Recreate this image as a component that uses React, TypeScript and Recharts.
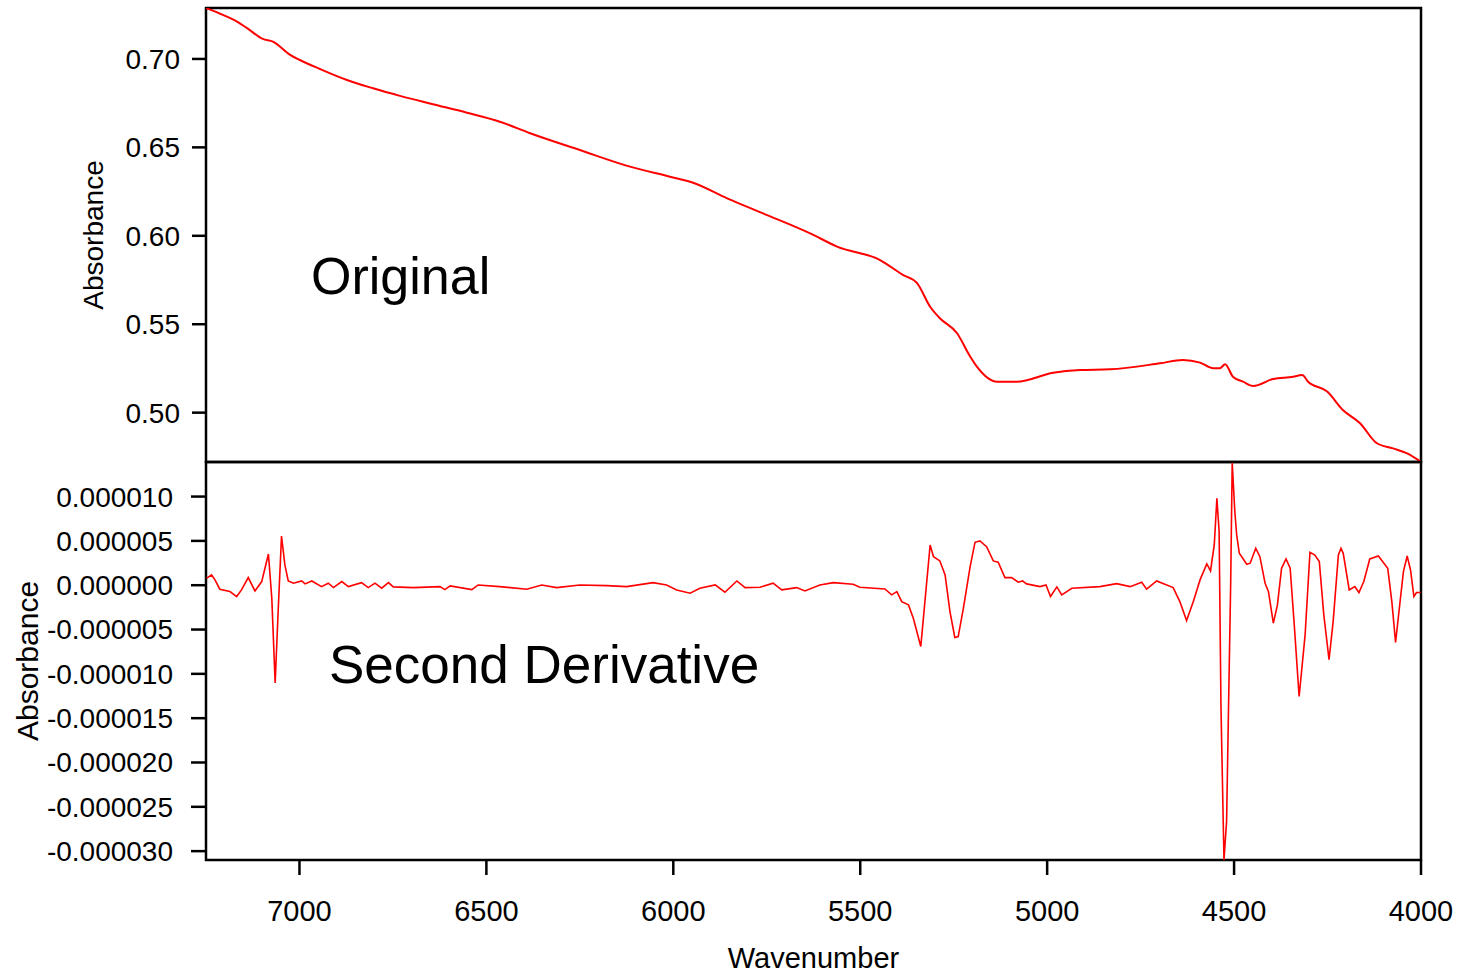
import { LineChart, Line, XAxis, YAxis, ReferenceArea } from "recharts";

const FONT = "'Liberation Sans', Arial, Helvetica, sans-serif";
const RED = "#ff0000";

// shared x axis (wavenumber, drawn high -> low)
const xTicks = [7000, 6500, 6000, 5500, 5000, 4500, 4000];
const X_DOMAIN: [number, number] = [4000, 7250];

// top panel: original spectrum
const absTicks = [0.5, 0.55, 0.6, 0.65, 0.7];
const ABS_DOMAIN: [number, number] = [0.4721, 0.7288];
const origWavenumber = [
  7250, 7205, 7167, 7140, 7098, 7071, 7025, 6999, 6945, 6873, 6803, 6731, 6643, 6552, 6464,
  6383, 6250, 6116, 6009, 5947, 5856, 5760, 5634, 5562, 5447, 5386, 5348, 5313, 5287, 5241,
  5206, 5188, 5134, 5081, 4984, 4912, 4832, 4698, 4637, 4591, 4556, 4538, 4524, 4503, 4476,
  4449, 4396, 4342, 4318, 4302, 4251, 4209, 4163, 4118, 4075, 4037, 4000,
];
const origAbsorbance = [
  0.7288, 0.7249, 0.7211, 0.7174, 0.7113, 0.7098, 0.7023, 0.6994, 0.6943, 0.6881, 0.6834,
  0.6791, 0.6744, 0.6696, 0.6645, 0.658, 0.6485, 0.6391, 0.6334, 0.63, 0.6212, 0.6127, 0.6014,
  0.5939, 0.5863, 0.5779, 0.5732, 0.5599, 0.5534, 0.5449, 0.5317, 0.526, 0.5175, 0.5175,
  0.5226, 0.5241, 0.5245, 0.5279, 0.5298, 0.5283, 0.5251, 0.5251, 0.5274, 0.5203, 0.5175,
  0.5151, 0.519, 0.5203, 0.5213, 0.5175, 0.5119, 0.5015, 0.494, 0.4827, 0.4798, 0.477, 0.4722,
];

// bottom panel: second derivative, values in units of 1e-6
const derivTicks = [-30, -25, -20, -15, -10, -5, 0, 5, 10];
const DERIV_DOMAIN: [number, number] = [-31.0, 13.9];
const derivWavenumber = [
  7248, 7235, 7226, 7213, 7186, 7168, 7155, 7137, 7119, 7101, 7083, 7074, 7065, 7057, 7048,
  7039, 7030, 7016, 6994, 6985, 6967, 6941, 6923, 6909, 6887, 6869, 6834, 6816, 6798, 6780,
  6762, 6749, 6695, 6624, 6611, 6597, 6539, 6522, 6464, 6392, 6352, 6312, 6250, 6178, 6125,
  6054, 6018, 5991, 5955, 5929, 5888, 5862, 5830, 5808, 5768, 5733, 5710, 5670, 5648, 5608,
  5572, 5519, 5501, 5434, 5416, 5402, 5389, 5371, 5358, 5338, 5327, 5313, 5304, 5287, 5273,
  5260, 5247, 5238, 5224, 5206, 5193, 5180, 5162, 5144, 5131, 5113, 5095, 5077, 5066, 5055,
  5019, 5003, 4991, 4974, 4961, 4934, 4859, 4814, 4778, 4747, 4734, 4707, 4663, 4645, 4627,
  4609, 4591, 4573, 4563, 4553, 4546, 4540, 4535, 4527, 4520, 4515, 4509, 4505, 4498, 4493,
  4486, 4466, 4457, 4442, 4431, 4417, 4408, 4395, 4384, 4373, 4361, 4350, 4339, 4326, 4310,
  4297, 4284, 4272, 4260, 4246, 4235, 4221, 4214, 4208, 4192, 4177, 4166, 4153, 4137, 4114,
  4089, 4078, 4068, 4056, 4047, 4037, 4028, 4019, 4012, 4001,
];
const derivValue = [
  0.79, 1.16, 0.6, -0.45, -0.72, -1.28, -0.53, 0.86, -0.64, 0.41, 3.52, -1.46, -11.04, -2.97,
  5.55, 2.29, 0.48, 0.23, 0.48, 0.15, 0.48, -0.16, 0.23, -0.27, 0.41, -0.16, 0.29, -0.27, 0.23,
  -0.34, 0.29, -0.19, -0.27, -0.16, -0.5, -0.08, -0.5, 0.03, -0.16, -0.45, 0.03, -0.27, 0.03,
  -0.05, -0.16, 0.29, 0.03, -0.53, -0.9, -0.34, 0.03, -0.79, 0.48, -0.27, -0.23, 0.23, -0.53,
  -0.27, -0.64, 0.03, 0.29, 0.11, -0.23, -0.42, -1.09, -0.72, -1.85, -2.22, -3.72, -6.91, -1.85,
  4.54, 3.22, 2.74, 1.16, -2.97, -5.9, -5.79, -2.59, 2.1, 4.84, 4.99, 4.35, 2.74, 2.59, 0.86,
  0.86, 0.34, 0.48, 0.15, -0.16, 0.03, -1.28, -0.19, -1.09, -0.34, -0.16, 0.18, -0.16, 0.34,
  -0.45, 0.48, -0.27, -1.85, -3.99, -1.85, 0.6, 2.4, 1.61, 4.54, 9.8, 6.04, -13.85, -31.0,
  -26.62, -14.23, 0.41, 13.8, 8.29, 5.66, 3.6, 2.36, 2.48, 4.17, 3.22, 0.23, -0.72, -4.28,
  -2.22, 1.91, 2.96, 1.91, -4.47, -12.55, -5.6, 3.72, 3.41, 2.66, -3.34, -8.41, -4.1, 3.41,
  4.17, 3.6, -0.53, -0.16, -0.83, 0.41, 2.96, 3.3, 1.91, -1.85, -6.46, -1.85, 1.53, 3.3, 1.72,
  -1.28, -0.83, -0.83,
];

const origData = origWavenumber.map((wn, i) => ({ wn, abs: origAbsorbance[i] }));
const derivData = derivWavenumber.map((wn, i) => ({ wn, d2: derivValue[i] }));

const tickStyle = { fill: "#000", fontSize: 28, fontFamily: FONT };
const frame = { fill: "none", stroke: "#000", strokeWidth: 2.5, ifOverflow: "visible" as const };

export default function App() {
  return (
    <div style={{ position: "absolute", left: 0, top: 0, width: 1466, height: 973, background: "#fff", fontFamily: FONT }}>
      <div style={{ position: "absolute", left: 0, top: 0 }}>
        <LineChart width={1466} height={470} data={origData} margin={{ top: 8, right: 45, bottom: 8, left: 0 }}>
          <XAxis type="number" dataKey="wn" domain={X_DOMAIN} ticks={xTicks} reversed hide allowDataOverflow />
          <YAxis
            type="number"
            domain={ABS_DOMAIN}
            ticks={absTicks}
            allowDataOverflow
            width={206}
            axisLine={false}
            tickLine={{ stroke: "#000", strokeWidth: 2.5 }}
            tickSize={14}
            tickMargin={12}
            tick={tickStyle}
            tickFormatter={(v: number) => v.toFixed(2)}
            label={{
              value: "Absorbance",
              angle: -90,
              position: "insideLeft",
              offset: 93,
              fontSize: 28,
              fill: "#000",
              fontFamily: FONT,
              style: { textAnchor: "middle" },
            }}
          />
          <ReferenceArea x1={7250} x2={4000} y1={ABS_DOMAIN[0]} y2={ABS_DOMAIN[1]} {...frame} />
          <Line type="monotone" dataKey="abs" stroke={RED} strokeWidth={2} dot={false} activeDot={false} isAnimationActive={false} />
        </LineChart>
      </div>

      <div style={{ position: "absolute", left: 0, top: 454 }}>
        <LineChart width={1466} height={519} data={derivData} margin={{ top: 8, right: 45, bottom: 0, left: 0 }}>
          <XAxis
            type="number"
            dataKey="wn"
            domain={X_DOMAIN}
            ticks={xTicks}
            reversed
            allowDataOverflow
            height={113}
            axisLine={false}
            tickLine={{ stroke: "#000", strokeWidth: 2.5 }}
            tickSize={15}
            tickMargin={25}
            tick={{ fill: "#000", fontSize: 29, fontFamily: FONT }}
            label={{ value: "Wavenumber", position: "insideBottom", offset: 5, fontSize: 29, fill: "#000", fontFamily: FONT }}
          />
          <YAxis
            type="number"
            domain={DERIV_DOMAIN}
            ticks={derivTicks}
            allowDataOverflow
            width={206}
            axisLine={false}
            tickLine={{ stroke: "#000", strokeWidth: 2.5 }}
            tickSize={15}
            tickMargin={18}
            tick={tickStyle}
            tickFormatter={(v: number) => (v / 1e6).toFixed(6)}
            label={{
              value: "Absorbance",
              angle: -90,
              position: "insideLeft",
              offset: 27,
              fontSize: 30,
              fill: "#000",
              fontFamily: FONT,
              style: { textAnchor: "middle" },
            }}
          />
          <ReferenceArea x1={7250} x2={4000} y1={DERIV_DOMAIN[0]} y2={DERIV_DOMAIN[1]} {...frame} />
          <Line type="linear" dataKey="d2" stroke={RED} strokeWidth={1.6} dot={false} activeDot={false} isAnimationActive={false} />
        </LineChart>
      </div>

      <svg width={1466} height={973} style={{ position: "absolute", left: 0, top: 0, pointerEvents: "none" }}>
        <text x={311} y={294} fontSize={52} fontFamily={FONT} fill="#000">Original</text>
        <text x={329} y={683} fontSize={53} fontFamily={FONT} fill="#000">Second Derivative</text>
      </svg>
    </div>
  );
}
